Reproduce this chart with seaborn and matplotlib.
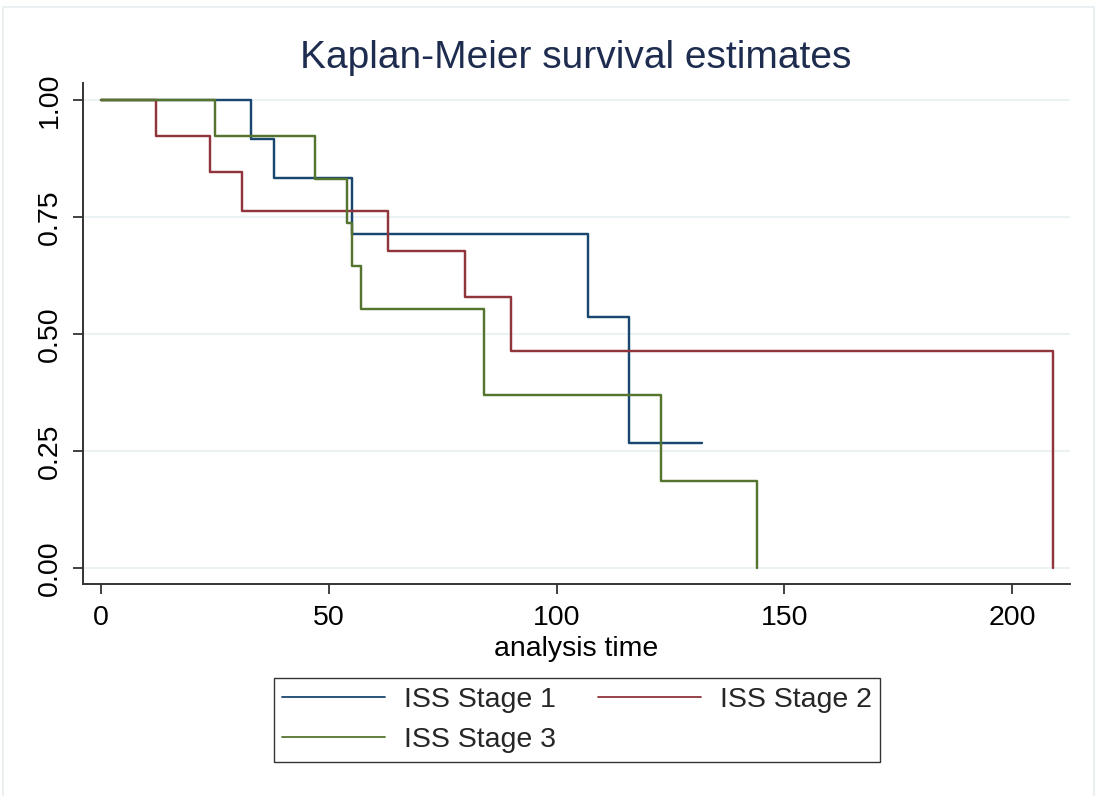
import numpy as np
import pandas as pd
import matplotlib
matplotlib.use("Agg")
import matplotlib.pyplot as plt
from matplotlib.patches import Rectangle
import seaborn as sns

# Kaplan-Meier step estimates by ISS stage (time, survival after each event)
stage1_time = [0, 33, 38, 55, 107, 116, 132]
stage1_surv = [1.0, 0.917, 0.833, 0.714, 0.536, 0.268, 0.268]

stage2_time = [0, 12, 24, 31, 63, 80, 90, 209]
stage2_surv = [1.0, 0.923, 0.846, 0.762, 0.677, 0.580, 0.464, 0.0]

stage3_time = [0, 25, 47, 54, 55, 57, 84, 123, 144]
stage3_surv = [1.0, 0.923, 0.831, 0.738, 0.646, 0.554, 0.369, 0.185, 0.0]

groups = ["ISS Stage 1", "ISS Stage 2", "ISS Stage 3"]
colors = ["#1a476f", "#90353b", "#55752f"]

x_ticks = [0, 50, 100, 150, 200]
y_ticks = [0.00, 0.25, 0.50, 0.75, 1.00]
y_tick_labels = ["0.00", "0.25", "0.50", "0.75", "1.00"]

frames = []
for name, t, s in zip(groups,
                      [stage1_time, stage2_time, stage3_time],
                      [stage1_surv, stage2_surv, stage3_surv]):
    frames.append(pd.DataFrame({"time": t, "survival": s, "group": name}))
df = pd.concat(frames, ignore_index=True)

sns.set_theme(style="white")
plt.rcParams["font.family"] = ["Liberation Sans", "DejaVu Sans"]

W, H = 1096, 796
fig = plt.figure(figsize=(W / 100, H / 100), dpi=100)
ax = fig.add_axes([83 / W, 1 - 584.3 / H, (1070 - 83) / W, (584.3 - 82.7) / H])

# light grid at the y ticks
for yv in y_ticks:
    ax.axhline(yv, color="#e8f0f2", lw=1.2, zorder=0)

sns.lineplot(data=df, x="time", y="survival", hue="group", hue_order=groups,
             palette=colors, estimator=None, sort=True, drawstyle="steps-post",
             lw=1.75, legend=False, ax=ax)

ax.set_xlim(-3.95, 212.7)
ax.set_ylim(-0.035, 1.037)
ax.set_xticks(x_ticks)
ax.set_xticklabels([str(v) for v in x_ticks])
ax.set_yticks(y_ticks)
ax.set_yticklabels(y_tick_labels, rotation=90, va="center")

for side in ["top", "right"]:
    ax.spines[side].set_visible(False)
for side in ["left", "bottom"]:
    ax.spines[side].set_color("#333333")
    ax.spines[side].set_linewidth(1.4)

ax.tick_params(axis="both", which="major", direction="out", length=7.5,
               width=1.3, color="#333333", labelsize=20.5, labelcolor="black",
               left=True, bottom=True)
ax.tick_params(axis="x", pad=7.5)
ax.tick_params(axis="y", pad=7)

ax.set_xlabel("analysis time", fontsize=20.5, color="black", va="center")
ax.xaxis.set_label_coords(0.5, -0.128)
ax.set_ylabel("")

fig.text(576 / W, 1 - 58 / H, "Kaplan-Meier survival estimates",
         ha="center", va="center", fontsize=28, color="#1e2d4f")

# legend below the plot, filled row by row
handles = [plt.Line2D([], [], color=c, lw=1.3) for c in colors]
order = [0, 2, 1]
leg = fig.legend([handles[i] for i in order], [groups[i] for i in order],
                 ncol=2, loc="center", bbox_to_anchor=(577 / W, 1 - 720 / H),
                 fontsize=20.5, frameon=True, fancybox=False, handlelength=3.6,
                 handletextpad=0.67, columnspacing=1.5, borderpad=0.3,
                 labelspacing=0.5)
leg.get_frame().set_edgecolor("black")
leg.get_frame().set_linewidth(1.0)

# thin outer frame of the graph region
fig.patches.append(Rectangle((3 / W, -0.01), (1094 - 3) / W, 1 - 7 / H + 0.01,
                             transform=fig.transFigure, fill=False,
                             edgecolor="#e6eef0", lw=1.2))

fig.savefig("out.png", dpi=100, facecolor="white")
